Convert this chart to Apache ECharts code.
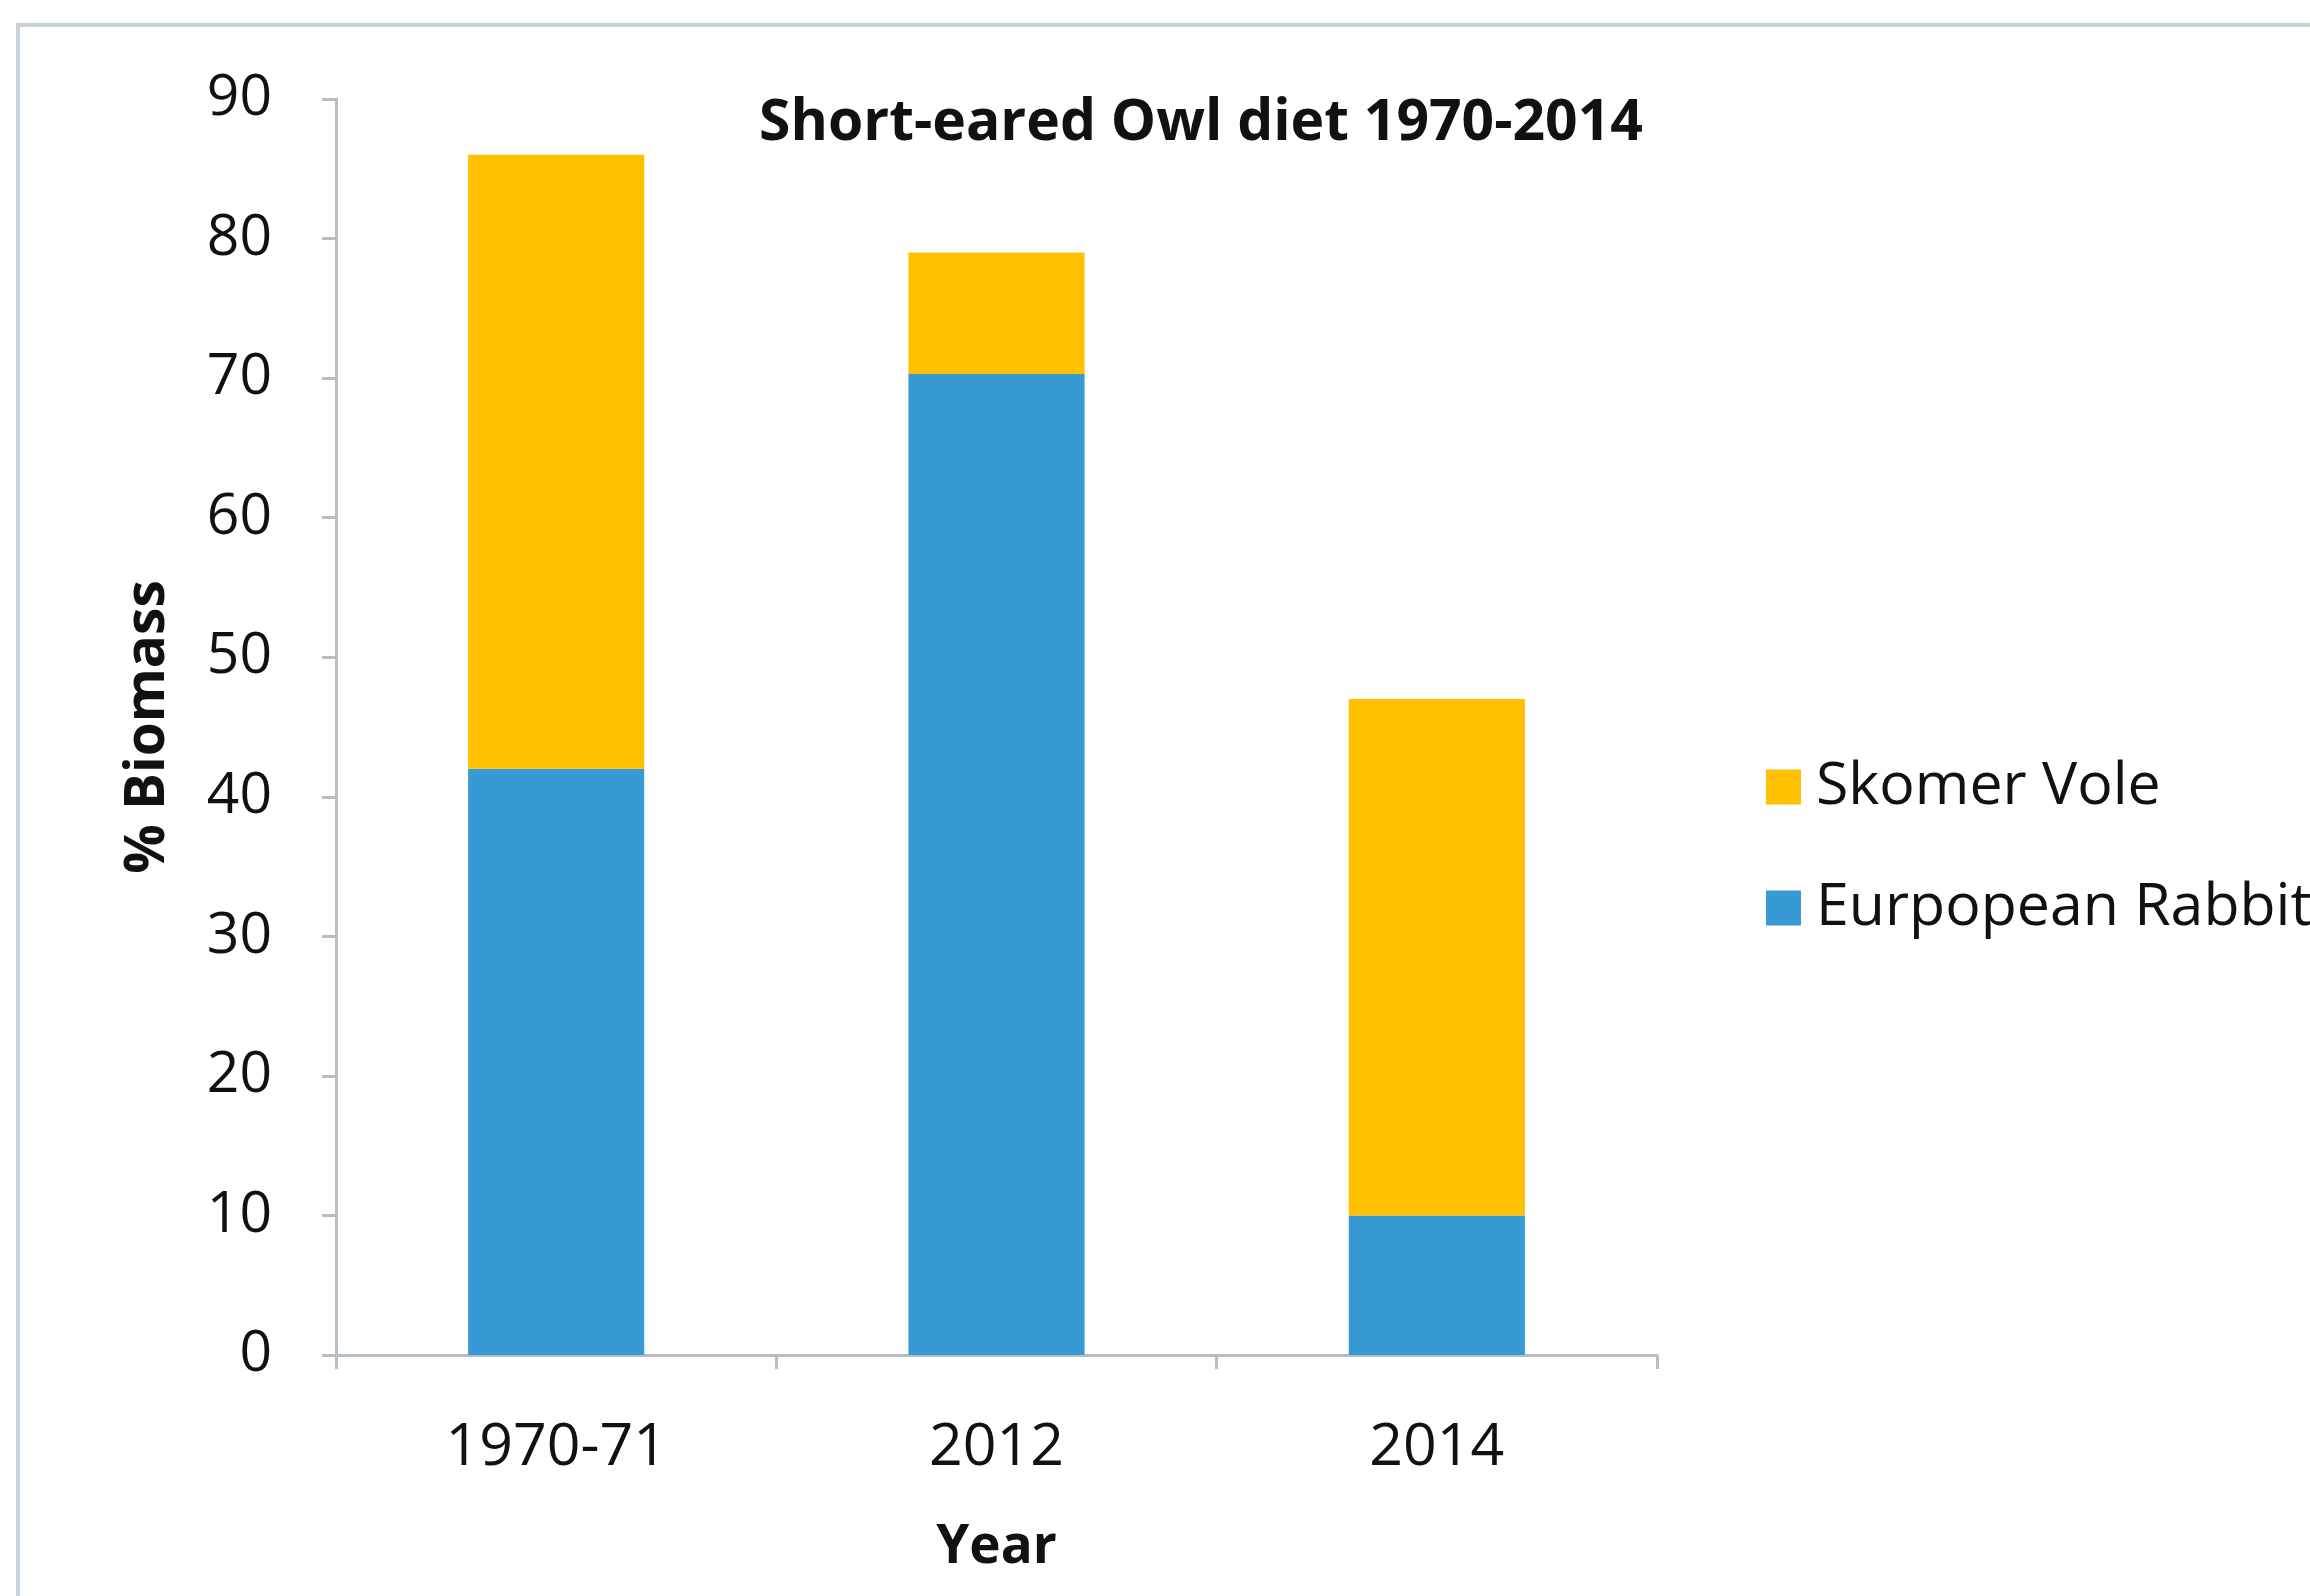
<!DOCTYPE html>
<html>
<head>
<meta charset="utf-8">
<script src="https://cdn.jsdelivr.net/npm/echarts@6/dist/echarts.min.js"></script>
<style>
  html, body { margin: 0; padding: 0; background: #ffffff; }
  #chart { width: 2310px; height: 1596px; }
</style>
</head>
<body>
<div id="chart"></div>
<script>
// Short-eared Owl diet: % biomass by prey type per survey period
const years = ['1970-71', '2012', '2014'];
const rabbit = [42, 70.3, 10];   // Eurpopean Rabbit
const vole = [44, 8.7, 37];      // Skomer Vole (stacked on top)
const yTicks = [0, 10, 20, 30, 40, 50, 60, 70, 80, 90];

const FONT = '"Open Sans", "Noto Sans", sans-serif';
const BLUE = '#379AD4';
const YELLOW = '#FFC000';
const AXIS = '#b4bec4';

const chart = echarts.init(document.getElementById('chart'), null, { renderer: 'canvas' });

chart.setOption({
  backgroundColor: '#ffffff',
  animation: false,
  graphic: [{
    type: 'rect',
    shape: { x: 18, y: 25, width: 2320, height: 1600 },
    style: { fill: 'none', stroke: '#c6d3d8', lineWidth: 4 },
    silent: true
  }],
  title: {
    text: 'Short-eared Owl diet 1970-2014',
    left: 1196,
    top: 90,
    textAlign: 'center',
    textStyle: { fontFamily: FONT, fontWeight: 'bold', fontSize: 57, color: '#111111' }
  },
  legend: {
    orient: 'vertical',
    left: 1761,
    top: 750,
    itemWidth: 35,
    itemHeight: 35,
    itemGap: 57,
    icon: 'rect',
    data: ['Skomer Vole', 'Eurpopean Rabbit'],
    textStyle: { fontFamily: FONT, fontSize: 59, color: '#111111', lineHeight: 64, padding: [0, 0, 0, 10] }
  },
  grid: { left: 336, right: 653, top: 99, bottom: 241 },
  xAxis: {
    type: 'category',
    data: years,
    name: 'Year',
    nameLocation: 'middle',
    nameGap: 166,
    nameTextStyle: { fontFamily: FONT, fontWeight: 'bold', fontSize: 53, color: '#111111' },
    axisLine: { lineStyle: { color: AXIS, width: 3 } },
    axisTick: { show: true, length: 14, lineStyle: { color: AXIS, width: 3 } },
    axisLabel: { fontFamily: FONT, fontSize: 59, color: '#111111', margin: 64 }
  },
  yAxis: {
    type: 'value',
    min: 0,
    max: 90,
    interval: 10,
    name: '% Biomass',
    nameLocation: 'middle',
    nameRotate: 90,
    nameGap: 160,
    nameTextStyle: { fontFamily: FONT, fontWeight: 'bold', fontSize: 55, color: '#111111' },
    axisLine: { show: true, lineStyle: { color: AXIS, width: 3 } },
    axisTick: { show: true, length: 14, lineStyle: { color: AXIS, width: 3 } },
    splitLine: { show: false },
    axisLabel: {
      fontFamily: FONT, fontSize: 57, color: '#111111', margin: 64,
      formatter: v => (yTicks.indexOf(v) >= 0 ? String(v) : '')
    }
  },
  series: [
    {
      name: 'Eurpopean Rabbit',
      type: 'bar',
      stack: 'diet',
      data: rabbit,
      barWidth: '40%',
      itemStyle: { color: BLUE }
    },
    {
      name: 'Skomer Vole',
      type: 'bar',
      stack: 'diet',
      data: vole,
      barWidth: '40%',
      itemStyle: { color: YELLOW }
    }
  ]
});
</script>
</body>
</html>
